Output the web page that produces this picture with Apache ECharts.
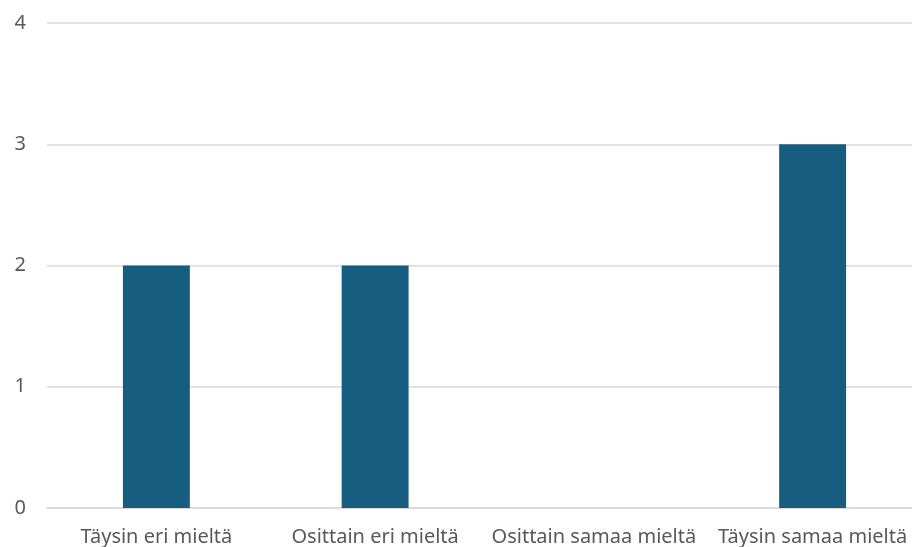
<!DOCTYPE html>
<html>
<head>
<meta charset="utf-8">
<script src="https://cdn.jsdelivr.net/npm/echarts@6/dist/echarts.min.js"></script>
<style>
  html, body { margin: 0; padding: 0; background: #fff; }
  #chart { width: 912px; height: 547px; }
</style>
</head>
<body>
<div id="chart"></div>
<script>
// Vastausten jakauma
const categories = ['Täysin eri mieltä', 'Osittain eri mieltä', 'Osittain samaa mieltä', 'Täysin samaa mieltä'];
const counts = [2, 2, 0, 3];
const yTicks = [0, 1, 2, 3, 4];

const chart = echarts.init(document.getElementById('chart'), null, { renderer: 'canvas' });
chart.setOption({
  animation: false,
  backgroundColor: '#ffffff',
  grid: { left: 47, top: 23, width: 875, height: 485, containLabel: false, outerBoundsMode: 'none' },
  xAxis: {
    type: 'category',
    data: categories,
    axisLine: { show: true, lineStyle: { color: '#d9d9d9', width: 1.5 } },
    axisTick: { show: false },
    axisLabel: {
      color: '#595959',
      fontFamily: 'Noto Sans',
      fontSize: 20,
      margin: 19,
      interval: 0,
      hideOverlap: false
    }
  },
  yAxis: {
    type: 'value',
    min: yTicks[0],
    max: yTicks[yTicks.length - 1],
    interval: 1,
    axisLine: { show: false },
    axisTick: { show: false },
    splitLine: { lineStyle: { color: '#d9d9d9', width: 1.5 } },
    axisLabel: {
      color: '#595959',
      fontFamily: 'Noto Sans',
      fontSize: 20,
      margin: 21
    }
  },
  series: [{
    type: 'bar',
    data: counts,
    barWidth: '30.6%',
    itemStyle: { color: '#175d7f' }
  }]
});
</script>
</body>
</html>
